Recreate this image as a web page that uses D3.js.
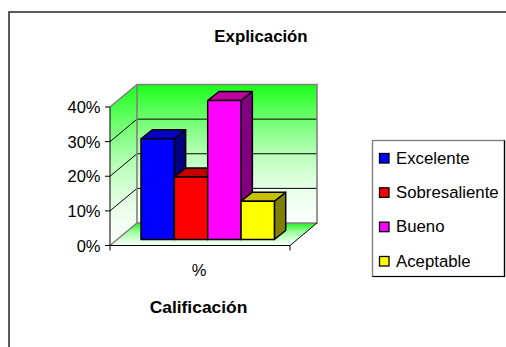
<!DOCTYPE html>
<html><head><meta charset="utf-8">
<script src="https://cdn.jsdelivr.net/npm/d3@7"></script>
<style>html,body{margin:0;padding:0;background:#fff}svg{display:block}text{font-family:"Liberation Sans",Arial,sans-serif;fill:#000}</style>
</head><body><svg id="c" width="506" height="347"></svg>
<script>
const categories=["Excelente","Sobresaliente","Bueno","Aceptable"];
const values=[29,18,40,11];
const barColors=["#0000ff","#ff0000","#ff00ff","#ffff00"];
const topColors=["#0000c0","#c00000","#c000a0","#c8c000"];
const sideColors=["#000080","#800000","#800080","#808000"];
const yTicks=[0,10,20,30,40];
const title="Explicación", xTitle="Calificación", xCat="%";

const svg=d3.select("#c");
const W=506,H=347;
svg.append("rect").attr("x",9).attr("y",12).attr("width",W+20).attr("height",H+20).attr("fill","#fff").attr("stroke","#333").attr("stroke-width",1.6);

const frontX=d3.scaleLinear().domain([0,1]).range([110,290]);
const y=d3.scaleLinear().domain([0,40]).range([245.5,107]);
const dx=27,dy=-22.5;
const band=d3.scaleBand().domain(categories).range([141,274.4]);
const barY=d3.scaleLinear().domain([0,40]).range([239.5,100.5]);
const bdx=11.3,bdy=-9;

const defs=svg.append("defs");
function grad(id,x2,y2,stops){const g=defs.append("linearGradient").attr("id",id).attr("x1",0).attr("y1",0).attr("x2",x2).attr("y2",y2);
 stops.forEach(s=>g.append("stop").attr("offset",s[0]).attr("stop-color",s[1]));}
grad("wall",0,1,[[0,"#1aff1a"],[.25,"#70ff70"],[.5,"#b8ffb8"],[.75,"#e8ffe8"],[1,"#ffffff"]]);
grad("floor",0,1,[[0,"#20f020"],[.4,"#a0ffa0"],[1,"#ffffff"]]);

const x0=frontX(0),x1=frontX(1),yB=y(0),yT=y(40);
const pts=a=>a.map(p=>p.join(",")).join(" ");
// floor
svg.append("polygon").attr("points",pts([[x0,yB],[x0+dx,yB+dy],[x1+dx,yB+dy],[x1,yB]])).attr("fill","url(#floor)");
// left wall
svg.append("polygon").attr("points",pts([[x0,yB],[x0+dx,yB+dy],[x0+dx,yT+dy],[x0,yT]])).attr("fill","url(#wall)");
// back wall
svg.append("rect").attr("x",x0+dx).attr("y",yT+dy).attr("width",x1-x0).attr("height",yB-yT).attr("fill","url(#wall)");
// grid
yTicks.slice(1,-1).forEach(t=>{
 svg.append("line").attr("x1",x0+dx).attr("x2",x1+dx).attr("y1",y(t)+dy).attr("y2",y(t)+dy).attr("stroke","#000").attr("stroke-width",1);
 svg.append("line").attr("x1",x0).attr("x2",x0+dx).attr("y1",y(t)).attr("y2",y(t)+dy).attr("stroke","#000").attr("stroke-width",1);
});
// wall borders
svg.append("polyline").attr("fill","none").attr("stroke","#808080").attr("stroke-width",1.6)
 .attr("points",pts([[x0,yT],[x0+dx,yT+dy],[x1+dx,yT+dy],[x1+dx,yB+dy],[x0+dx,yB+dy],[x0,yB]]));
svg.append("line").attr("x1",x0+dx).attr("x2",x0+dx).attr("y1",yT+dy).attr("y2",yB+dy).attr("stroke","#808080").attr("stroke-width",1.6);
svg.append("line").attr("x1",x1+dx).attr("x2",x1).attr("y1",yB+dy).attr("y2",yB).attr("stroke","#000");
// axes
svg.append("line").attr("x1",x0).attr("x2",x0).attr("y1",yT).attr("y2",yB).attr("stroke","#000");
svg.append("line").attr("x1",x0).attr("x2",x1).attr("y1",yB).attr("y2",yB).attr("stroke","#000");
[x0,x1].forEach(x=>svg.append("line").attr("x1",x).attr("x2",x).attr("y1",yB).attr("y2",yB+5).attr("stroke","#000"));
yTicks.forEach(t=>{
 svg.append("line").attr("x1",x0-5).attr("x2",x0).attr("y1",y(t)).attr("y2",y(t)).attr("stroke","#000");
 svg.append("text").attr("x",x0-9.5).attr("y",y(t)+6).attr("text-anchor","end").attr("font-size",16.5).text(t+"%");
});
// bars
categories.forEach((c,i)=>{
 const a=band(c),b=a+band.bandwidth(),t=barY(values[i]),f=barY(0);
 const g=svg.append("g").attr("stroke","#000").attr("stroke-width",1.5).attr("stroke-linejoin","round");
 g.append("polygon").attr("points",pts([[b,t],[b+bdx,t+bdy],[b+bdx,f+bdy],[b,f]])).attr("fill",sideColors[i]);
 g.append("polygon").attr("points",pts([[a,t],[a+bdx,t+bdy],[b+bdx,t+bdy],[b,t]])).attr("fill",topColors[i]);
 g.append("rect").attr("x",a).attr("y",t).attr("width",b-a).attr("height",f-t).attr("fill",barColors[i]);
});
// texts
svg.append("text").attr("x",261).attr("y",42).attr("text-anchor","middle").attr("font-size",16.8).attr("font-weight","bold").text(title);
svg.append("text").attr("x",199).attr("y",276).attr("text-anchor","middle").attr("font-size",16.5).text(xCat);
svg.append("text").attr("x",198.5).attr("y",313).attr("text-anchor","middle").attr("font-size",17.4).attr("font-weight","bold").text(xTitle);
// legend
svg.append("rect").attr("x",372.5).attr("y",140.5).attr("width",132).attr("height",136).attr("fill","#fff").attr("stroke","#808080").attr("stroke-width",1.4);
svg.append("polyline").attr("fill","none").attr("stroke","#000").attr("stroke-width",1.2).attr("points",pts([[504.5,140.5],[504.5,276.5],[372.5,276.5]]));
const ly=d3.scalePoint().domain(categories).range([158,261]);
categories.forEach((c,i)=>{
 svg.append("rect").attr("x",379.5).attr("y",ly(c)-4.5).attr("width",9.5).attr("height",9.5).attr("fill",barColors[i]).attr("stroke","#000").attr("stroke-width",1.3);
 svg.append("text").attr("x",396).attr("y",ly(c)+5.5).attr("font-size",16.8).text(c);
});
</script></body></html>
